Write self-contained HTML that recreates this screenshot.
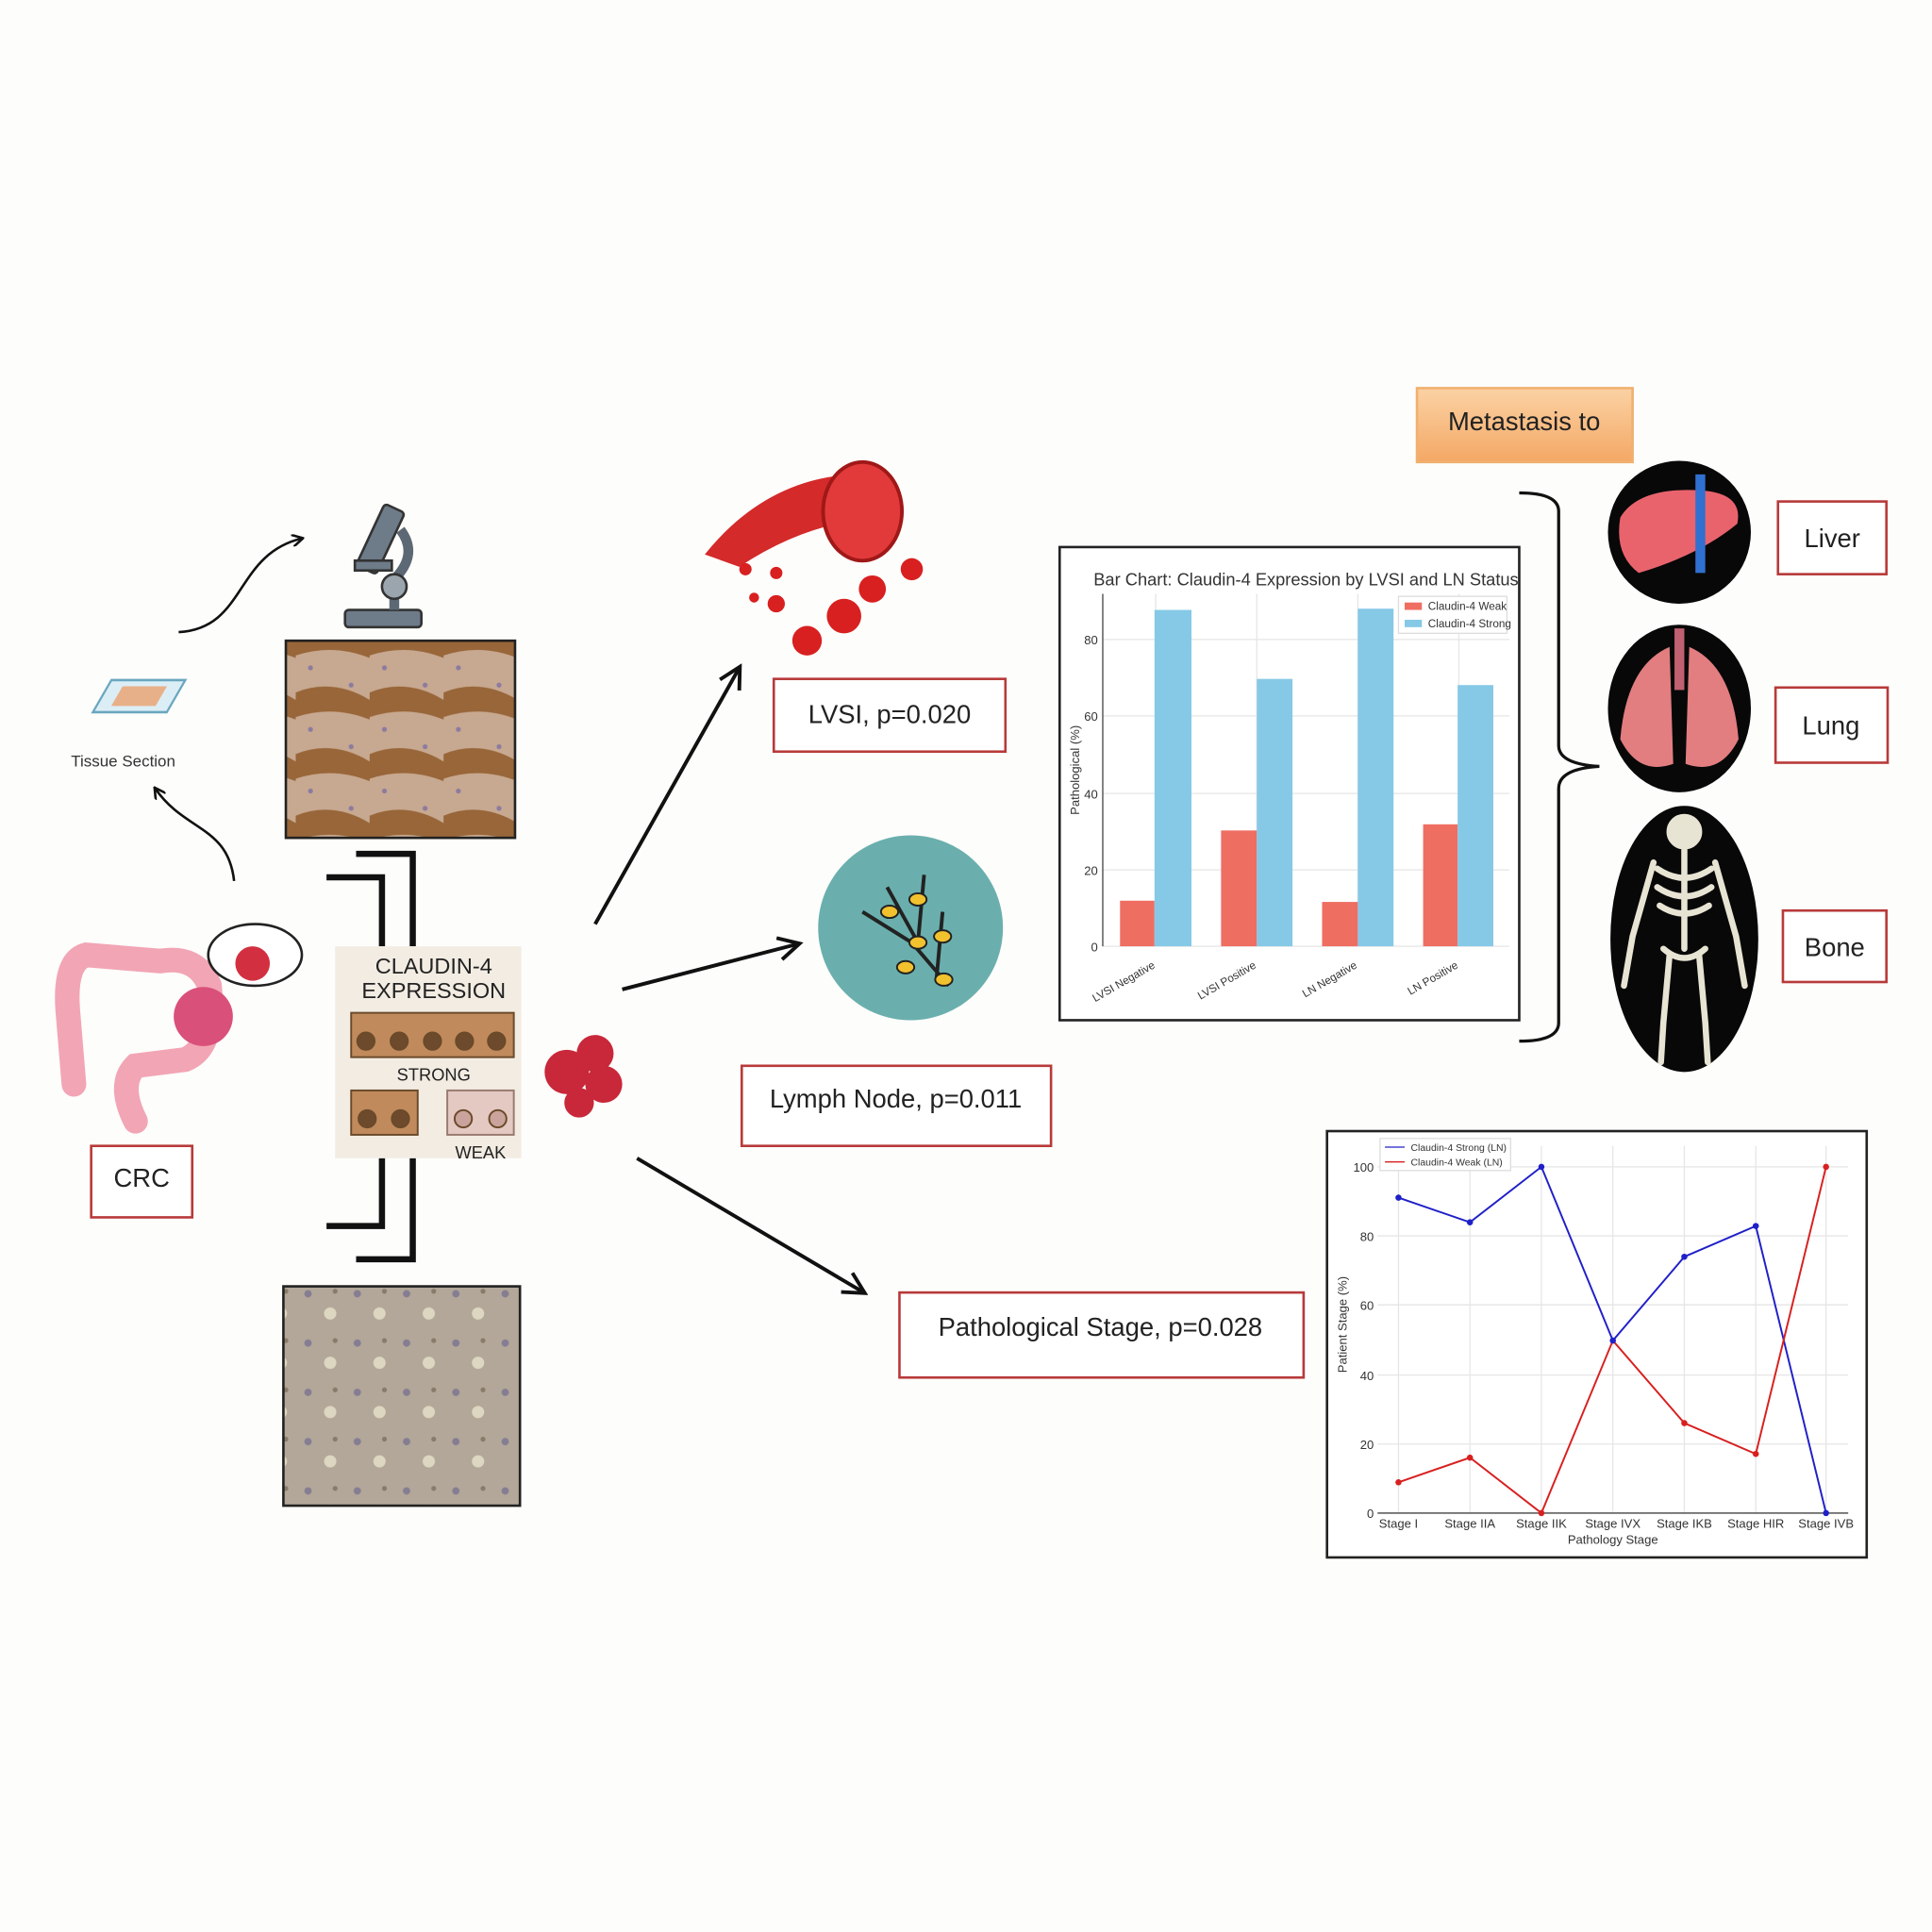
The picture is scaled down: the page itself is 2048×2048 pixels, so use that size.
<!DOCTYPE html>
<html><head><meta charset="utf-8"><style>
html,body{margin:0;padding:0;background:#fdfdfb;}
svg{display:block;}
text{font-family:"Liberation Sans Narrow","Liberation Sans",sans-serif;}
</style></head><body>
<svg width="2048" height="2048" viewBox="0 0 1568 1568" xmlns="http://www.w3.org/2000/svg">
<defs>
<marker id="ah" markerWidth="10" markerHeight="10" refX="8" refY="5" orient="auto" markerUnits="userSpaceOnUse"><path d="M0,0 L9,5 L0,10" fill="none" stroke="#111" stroke-width="2"/></marker>
<marker id="ah2" markerWidth="22" markerHeight="22" refX="18" refY="11" orient="auto" markerUnits="userSpaceOnUse"><path d="M2,2 L19,11 L2,20" fill="none" stroke="#111" stroke-width="3"/></marker>
<linearGradient id="og" x1="0" y1="0" x2="0" y2="1"><stop offset="0" stop-color="#fbd2a4"/><stop offset="1" stop-color="#f4a865"/></linearGradient>
<pattern id="brown" width="60" height="50" patternUnits="userSpaceOnUse"><rect width="60" height="50" fill="#c7a890"/><path d="M0,12 Q30,0 60,18 L60,34 Q30,22 0,32Z" fill="#8f5a2a" opacity="0.85"/><circle cx="12" cy="42" r="2" fill="#8c7ba0"/><circle cx="45" cy="6" r="2" fill="#8c7ba0"/></pattern>
<pattern id="weak" width="40" height="40" patternUnits="userSpaceOnUse"><rect width="40" height="40" fill="#b2a798"/><circle cx="10" cy="10" r="3" fill="#857d92"/><circle cx="28" cy="26" r="5" fill="#ddd6c0"/><circle cx="32" cy="8" r="2" fill="#8a7a6a"/></pattern>
</defs>
<rect width="1568" height="1568" fill="#fdfdfb"/>

<!-- tissue slide -->
<g transform="translate(100,570) skewX(-30)"><rect x="-20" y="-18" width="60" height="26" fill="#dceef5" stroke="#6aa7c0" stroke-width="2"/><rect x="-8" y="-13" width="36" height="16" fill="#e8b089"/></g>
<text x="100" y="622" font-size="13" text-anchor="middle" fill="#333">Tissue Section</text>
<path d="M145,513 C200,510 190,450 245,437" fill="none" stroke="#111" stroke-width="2" marker-end="url(#ah)"/>
<path d="M190,715 C185,670 150,675 126,640" fill="none" stroke="#111" stroke-width="2" marker-end="url(#ah)"/>

<!-- microscope -->
<g fill="#6e7b88" stroke="#333" stroke-width="2">
<rect x="280" y="495" width="62" height="14" rx="3"/>
<path d="M320,495 L320,470 Q340,450 325,430" fill="none" stroke-width="8" stroke="#5d6875"/>
<rect x="300" y="410" width="18" height="55" rx="3" transform="rotate(25 309 437)"/>
<rect x="288" y="455" width="30" height="8"/>
<circle cx="320" cy="476" r="10" fill="#9aa5ae"/>
</g>

<!-- IHC images -->
<rect x="232" y="520" width="186" height="160" fill="url(#brown)" stroke="#222" stroke-width="2"/>
<rect x="230" y="1044" width="192" height="178" fill="url(#weak)" stroke="#222" stroke-width="2"/>

<!-- brackets -->
<g fill="none" stroke="#111" stroke-width="5">
<path d="M289,693 L335,693 L335,768"/>
<path d="M265,712 L310,712 L310,768"/>
<path d="M335,940 L335,1022 L289,1022"/>
<path d="M310,940 L310,995 L265,995"/>
</g>

<!-- claudin box -->
<rect x="272" y="768" width="151" height="172" fill="#f2ece3"/>
<text x="352" y="790" font-size="18" text-anchor="middle" fill="#222">CLAUDIN-4</text>
<text x="352" y="810" font-size="18" text-anchor="middle" fill="#222">EXPRESSION</text>
<g stroke="#6a4a2a" stroke-width="1.5">
<rect x="285" y="822" width="132" height="36" fill="#c08a5c"/>
<circle cx="297" cy="845" r="7" fill="#6e4a2c"/><circle cx="324" cy="845" r="7" fill="#6e4a2c"/><circle cx="351" cy="845" r="7" fill="#6e4a2c"/><circle cx="377" cy="845" r="7" fill="#6e4a2c"/><circle cx="403" cy="845" r="7" fill="#6e4a2c"/>
<rect x="285" y="885" width="54" height="36" fill="#c08a5c"/>
<circle cx="298" cy="908" r="7" fill="#6e4a2c"/><circle cx="325" cy="908" r="7" fill="#6e4a2c"/>
<rect x="363" y="885" width="54" height="36" fill="#e3c9c2" stroke="#9a7a70"/>
<circle cx="376" cy="908" r="7" fill="#caa39c"/><circle cx="404" cy="908" r="7" fill="#caa39c"/>
</g>
<text x="352" y="877" font-size="14" text-anchor="middle" fill="#222">STRONG</text>
<text x="390" y="940" font-size="14" text-anchor="middle" fill="#222">WEAK</text>

<!-- colon -->
<path d="M110,910 Q95,880 110,865 L150,860 Q175,850 170,800 Q160,775 130,780 L70,775 Q52,780 55,820 L60,880" fill="none" stroke="#f2a5b5" stroke-width="20" stroke-linecap="round"/>
<circle cx="165" cy="825" r="24" fill="#d9507a"/>
<ellipse cx="207" cy="775" rx="38" ry="25" fill="#fff" stroke="#222" stroke-width="2"/>
<circle cx="205" cy="782" r="14" fill="#d23040"/>
<rect x="74" y="930" width="82" height="58" fill="#fff" stroke="#b83a3a" stroke-width="2"/>
<text x="115" y="963" font-size="21" text-anchor="middle" fill="#222">CRC</text>

<!-- tumor cluster -->
<g fill="#c8283a"><circle cx="460" cy="870" r="18"/><circle cx="483" cy="855" r="15"/><circle cx="490" cy="880" r="15"/><circle cx="470" cy="895" r="12"/></g>

<!-- arrows -->
<g stroke="#111" stroke-width="3" fill="none">
<line x1="483" y1="750" x2="600" y2="542" marker-end="url(#ah2)"/>
<line x1="505" y1="803" x2="648" y2="766" marker-end="url(#ah2)"/>
<line x1="517" y1="940" x2="701" y2="1049" marker-end="url(#ah2)"/>
</g>

<!-- vessel -->
<path d="M572,450 Q620,390 690,385 L725,420 Q660,420 600,460 Z" fill="#d42a2a"/>
<ellipse cx="700" cy="415" rx="32" ry="40" fill="#e23a3a" stroke="#a01818" stroke-width="3"/>
<g fill="#d82020"><circle cx="655" cy="520" r="12"/><circle cx="685" cy="500" r="14"/><circle cx="708" cy="478" r="11"/><circle cx="740" cy="462" r="9"/><circle cx="630" cy="490" r="7"/><circle cx="605" cy="462" r="5"/><circle cx="630" cy="465" r="5"/><circle cx="612" cy="485" r="4"/></g>
<rect x="628" y="551" width="188" height="59" fill="#fff" stroke="#b83a3a" stroke-width="2"/>
<text x="722" y="587" font-size="21" text-anchor="middle" fill="#222">LVSI, p=0.020</text>

<!-- lymph -->
<circle cx="739" cy="753" r="75" fill="#6aafad"/>
<g stroke="#222" stroke-width="3" fill="none"><path d="M700,740 L740,765 L770,800 M720,720 L745,765 M750,710 L745,765 M765,740 L760,795"/></g>
<g fill="#f2c12e" stroke="#222" stroke-width="1.5"><ellipse cx="722" cy="740" rx="7" ry="5"/><ellipse cx="745" cy="730" rx="7" ry="5"/><ellipse cx="745" cy="765" rx="7" ry="5"/><ellipse cx="735" cy="785" rx="7" ry="5"/><ellipse cx="766" cy="795" rx="7" ry="5"/><ellipse cx="765" cy="760" rx="7" ry="5"/></g>
<rect x="602" y="865" width="251" height="65" fill="#fff" stroke="#b83a3a" stroke-width="2"/>
<text x="727" y="899" font-size="21" text-anchor="middle" fill="#222">Lymph Node, p=0.011</text>

<rect x="730" y="1049" width="328" height="69" fill="#fff" stroke="#b83a3a" stroke-width="2"/>
<text x="893" y="1084" font-size="21" text-anchor="middle" fill="#222">Pathological  Stage, p=0.028</text>

<!-- bar chart -->
<rect x="860" y="444" width="373" height="384" fill="#fff" stroke="#222" stroke-width="2"/>
<text x="1060" y="475" font-size="14" text-anchor="middle" fill="#333">Bar Chart: Claudin-4 Expression by LVSI and LN Status</text>
<g stroke="#e6e6e6"><line x1="895" y1="768" x2="1225" y2="768"/><line x1="895" y1="706" x2="1225" y2="706"/><line x1="895" y1="644" x2="1225" y2="644"/><line x1="895" y1="581" x2="1225" y2="581"/><line x1="895" y1="519" x2="1225" y2="519"/><line x1="938" y1="482" x2="938" y2="768"/><line x1="1020" y1="482" x2="1020" y2="768"/><line x1="1102" y1="482" x2="1102" y2="768"/><line x1="1184" y1="482" x2="1184" y2="768"/></g>
<line x1="895" y1="482" x2="895" y2="768" stroke="#444"/>
<g font-size="10" fill="#333" text-anchor="end"><text x="891" y="772">0</text><text x="891" y="710">20</text><text x="891" y="648">40</text><text x="891" y="585">60</text><text x="891" y="523">80</text></g>
<text transform="translate(876,625) rotate(-90)" font-size="10" text-anchor="middle" fill="#333">Pathological (%)</text>
<g fill="#ef6e62"><rect x="909" y="731" width="28" height="37"/><rect x="991" y="674" width="29" height="94"/><rect x="1073" y="732" width="29" height="36"/><rect x="1155" y="669" width="28" height="99"/></g>
<g fill="#86c9e6"><rect x="937" y="495" width="30" height="273"/><rect x="1020" y="551" width="29" height="217"/><rect x="1102" y="494" width="29" height="274"/><rect x="1183" y="556" width="29" height="212"/></g>
<rect x="1135" y="484" width="88" height="30" fill="#fff" stroke="#ddd"/>
<rect x="1140" y="489" width="14" height="6" fill="#ef6e62"/><rect x="1140" y="503" width="14" height="6" fill="#86c9e6"/>
<text x="1159" y="495" font-size="9" fill="#333">Claudin-4 Weak</text><text x="1159" y="509" font-size="9" fill="#333">Claudin-4 Strong</text>
<g font-size="9" fill="#333" text-anchor="end"><text transform="translate(938,785) rotate(-30)">LVSI Negative</text><text transform="translate(1020,785) rotate(-30)">LVSI Positive</text><text transform="translate(1102,785) rotate(-30)">LN Negative</text><text transform="translate(1184,785) rotate(-30)">LN Positive</text></g>

<!-- metastasis -->
<rect x="1150" y="315" width="175" height="60" fill="url(#og)" stroke="#f0b070" stroke-width="2"/>
<text x="1237" y="349" font-size="21" text-anchor="middle" fill="#222">Metastasis to</text>
<path d="M1233,400 Q1265,400 1265,415 L1265,605 Q1265,620 1298,622 Q1265,624 1265,640 L1265,830 Q1265,845 1233,845" fill="none" stroke="#111" stroke-width="2.5"/>
<circle cx="1363" cy="432" r="58" fill="#080808"/>
<path d="M1315,420 Q1330,395 1380,398 Q1415,400 1410,425 Q1380,450 1330,465 Q1310,450 1315,420Z" fill="#e9636d"/>
<rect x="1376" y="385" width="8" height="80" fill="#3070d0"/>
<ellipse cx="1363" cy="575" rx="58" ry="68" fill="#080808"/>
<path d="M1355,525 Q1320,540 1315,600 Q1330,630 1358,620Z M1371,525 Q1406,540 1411,600 Q1396,630 1368,620Z" fill="#e27d80"/>
<rect x="1359" y="510" width="8" height="50" fill="#c06070"/>
<ellipse cx="1367" cy="762" rx="60" ry="108" fill="#080808"/>
<g stroke="#e8e4d4" stroke-width="5" fill="none" stroke-linecap="round"><circle cx="1367" cy="675" r="12" fill="#e8e4d4"/><line x1="1367" y1="690" x2="1367" y2="770"/><path d="M1345,705 Q1367,720 1389,705 M1345,720 Q1367,735 1389,720 M1347,735 Q1367,748 1387,735"/><path d="M1342,700 L1325,760 L1318,800 M1392,700 L1409,760 L1416,800"/><path d="M1355,775 L1350,830 L1348,862 M1379,775 L1384,830 L1386,862"/><path d="M1350,770 Q1367,785 1384,770"/></g>
<rect x="1443" y="407" width="88" height="59" fill="#fff" stroke="#b83a3a" stroke-width="2"/><text x="1487" y="444" font-size="21" text-anchor="middle" fill="#222">Liver</text>
<rect x="1441" y="558" width="91" height="61" fill="#fff" stroke="#b83a3a" stroke-width="2"/><text x="1486" y="596" font-size="21" text-anchor="middle" fill="#222">Lung</text>
<rect x="1447" y="739" width="84" height="58" fill="#fff" stroke="#b83a3a" stroke-width="2"/><text x="1489" y="776" font-size="21" text-anchor="middle" fill="#222">Bone</text>

<!-- line chart -->
<rect x="1077" y="918" width="438" height="346" fill="#fff" stroke="#222" stroke-width="2"/>
<g stroke="#e6e6e6"><line x1="1118" y1="947" x2="1500" y2="947"/><line x1="1118" y1="1003" x2="1500" y2="1003"/><line x1="1118" y1="1059" x2="1500" y2="1059"/><line x1="1118" y1="1116" x2="1500" y2="1116"/><line x1="1118" y1="1172" x2="1500" y2="1172"/><line x1="1135" y1="930" x2="1135" y2="1228"/><line x1="1193" y1="930" x2="1193" y2="1228"/><line x1="1251" y1="930" x2="1251" y2="1228"/><line x1="1309" y1="930" x2="1309" y2="1228"/><line x1="1367" y1="930" x2="1367" y2="1228"/><line x1="1425" y1="930" x2="1425" y2="1228"/><line x1="1482" y1="930" x2="1482" y2="1228"/></g>
<line x1="1118" y1="1228" x2="1500" y2="1228" stroke="#444"/>
<g font-size="10" fill="#333" text-anchor="end"><text x="1115" y="1232">0</text><text x="1115" y="1176">20</text><text x="1115" y="1120">40</text><text x="1115" y="1063">60</text><text x="1115" y="1007">80</text><text x="1115" y="951">100</text></g>
<text transform="translate(1093,1075) rotate(-90)" font-size="10" text-anchor="middle" fill="#333">Patient Stage (%)</text>
<g font-size="10" fill="#333" text-anchor="middle"><text x="1135" y="1240">Stage I</text><text x="1193" y="1240">Stage IIA</text><text x="1251" y="1240">Stage IIK</text><text x="1309" y="1240">Stage IVX</text><text x="1367" y="1240">Stage IKB</text><text x="1425" y="1240">Stage HIR</text><text x="1482" y="1240">Stage IVB</text><text x="1309" y="1253">Pathology Stage</text></g>
<polyline points="1135,972 1193,992 1251,947 1309,1088 1367,1020 1425,995 1482,1228" fill="none" stroke="#2020c8" stroke-width="1.5"/>
<polyline points="1135,1203 1193,1183 1251,1228 1309,1088 1367,1155 1425,1180 1482,947" fill="none" stroke="#d82020" stroke-width="1.5"/>
<g fill="#2020c8"><circle cx="1135" cy="972" r="2.5"/><circle cx="1193" cy="992" r="2.5"/><circle cx="1251" cy="947" r="2.5"/><circle cx="1309" cy="1088" r="2.5"/><circle cx="1367" cy="1020" r="2.5"/><circle cx="1425" cy="995" r="2.5"/><circle cx="1482" cy="1228" r="2.5"/></g>
<g fill="#d82020"><circle cx="1135" cy="1203" r="2.5"/><circle cx="1193" cy="1183" r="2.5"/><circle cx="1251" cy="1228" r="2.5"/><circle cx="1367" cy="1155" r="2.5"/><circle cx="1425" cy="1180" r="2.5"/><circle cx="1482" cy="947" r="2.5"/></g>
<rect x="1120" y="924" width="106" height="26" fill="#fff" stroke="#ddd"/>
<line x1="1124" y1="931" x2="1140" y2="931" stroke="#2020c8"/><line x1="1124" y1="943" x2="1140" y2="943" stroke="#d82020"/>
<text x="1145" y="934" font-size="8" fill="#333">Claudin-4 Strong (LN)</text><text x="1145" y="946" font-size="8" fill="#333">Claudin-4 Weak (LN)</text>
</svg>
</body></html>
